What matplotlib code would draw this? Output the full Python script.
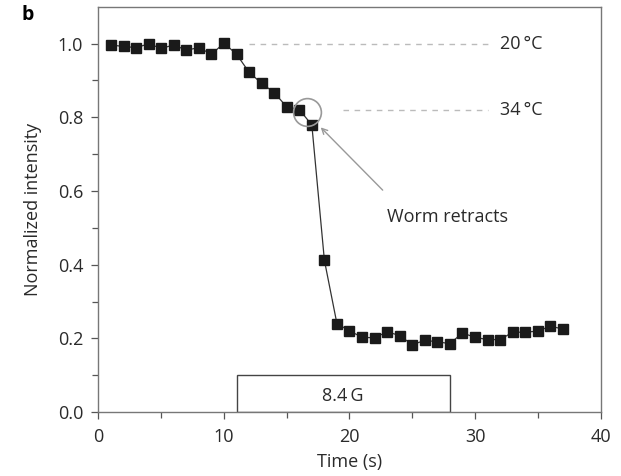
import matplotlib
matplotlib.use("Agg")
import matplotlib.pyplot as plt
from matplotlib.patches import Rectangle

plt.rcParams['font.family'] = ['Open Sans', 'DejaVu Sans']

time_s = [1, 2, 3, 4, 5, 6, 7, 8, 9, 10, 11, 12, 13, 14, 15, 16, 17, 18, 19, 20,
          21, 22, 23, 24, 25, 26, 27, 28, 29, 30, 31, 32, 33, 34, 35, 36, 37]
intensity = [0.996, 0.992, 0.989, 0.999, 0.987, 0.996, 0.982, 0.989, 0.971, 1.001,
             0.971, 0.922, 0.892, 0.867, 0.828, 0.821, 0.779, 0.412, 0.240, 0.221,
             0.203, 0.202, 0.218, 0.208, 0.183, 0.195, 0.191, 0.186, 0.215, 0.203,
             0.197, 0.197, 0.217, 0.217, 0.220, 0.233, 0.226]

ref_levels = [1.0, 0.82]
ref_labels = ['20\u2009°C', '34\u2009°C']
ref_starts = [12, 19.5]
stim_start, stim_end, stim_label = 11, 28, '8.4\u2009G'

TXT = '#2a2a2a'
FS = 13

fig = plt.figure(figsize=(6.21, 4.76), dpi=100)
ax = fig.add_axes([0.1586, 0.134, 0.8084, 0.852])

ax.plot(time_s, intensity, '-', color='#333333', lw=0.9, zorder=2)
ax.plot(time_s, intensity, 's', color='#1a1a1a', ms=6.6, zorder=3, mec='#1a1a1a')

for lvl, lab, st in zip(ref_levels, ref_labels, ref_starts):
    ax.plot([st, 31], [lvl, lvl], ls=(0, (4, 4)), color='#bbbbbb', lw=1.0)
    ax.text(32.0, lvl, lab, va='center', ha='left', fontsize=FS, color=TXT)

ax.plot([16.6], [0.814], 'o', ms=20, mfc='none', mec='#999999', mew=1.2, zorder=4)
ax.annotate('', xy=(17.55, 0.778), xytext=(22.8, 0.597),
            arrowprops=dict(arrowstyle='->', color='#999999', lw=1.0))
ax.text(23.0, 0.529, 'Worm retracts', ha='left', va='center', fontsize=FS, color=TXT)

ax.add_patch(Rectangle((stim_start, 0), stim_end - stim_start, 0.1, fill=False,
                       ec='#444444', lw=1.0, zorder=1))
ax.text((stim_start + stim_end) / 2, 0.045, stim_label,
        ha='center', va='center', fontsize=FS, color=TXT)

ax.set_xlim(0, 40)
ax.set_ylim(0, 1.1)
ax.set_xticks([0, 10, 20, 30, 40])
ax.set_xticks([5, 15, 25, 35], minor=True)
ax.set_yticks([0.0, 0.2, 0.4, 0.6, 0.8, 1.0])
ax.set_yticks([0.1, 0.3, 0.5, 0.7, 0.9], minor=True)
ax.set_yticklabels(['0.0', '0.2', '0.4', '0.6', '0.8', '1.0'])
ax.tick_params(which='both', direction='out', length=5, width=0.9, color='#555555',
               labelsize=FS, labelcolor=TXT)
ax.tick_params(which='minor', length=4)
ax.tick_params(axis='x', which='major', pad=6.5)
ax.tick_params(axis='y', which='major', pad=6)
for s in ax.spines.values():
    s.set_color('#777777')
    s.set_linewidth(1.0)

ax.set_xlabel('Time (s)', fontsize=FS, color=TXT, labelpad=5)
ax.set_ylabel('Normalized intensity', fontsize=FS, color=TXT, labelpad=11)

fig.text(0.035, 0.968, 'b', fontsize=14, fontweight='bold', ha='left', va='center')

fig.savefig('out.png', dpi=100)
